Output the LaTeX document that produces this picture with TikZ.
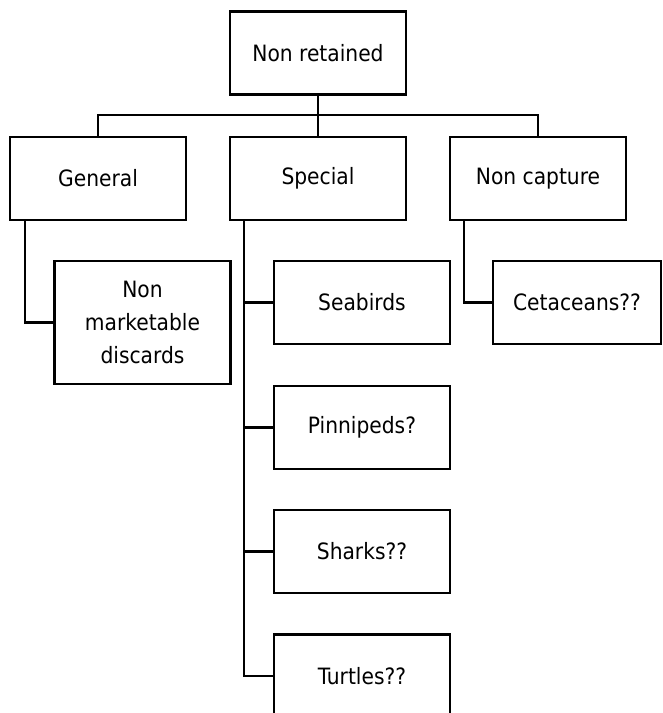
\documentclass[tikz,border=0pt]{standalone}
\usepackage{fontspec}
\setmainfont{DejaVu Sans Condensed}
\begin{document}
\begin{tikzpicture}[x=1pt,y=-1pt,
  box/.style={draw=black,line width=2.8pt,fill=white,rectangle,
    minimum width=176pt,minimum height=83pt,inner sep=0pt,
    align=center,font=\fontsize{22.5}{33}\selectfont},
  link/.style={draw=black,line width=2.2pt}]
\clip (0,0) rectangle (663,713);
\fill[white] (0,0) rectangle (663,713);

% top level and its three branches
\node[box] (root) at (318,53) {Non retained};
\node[box] (gen) at (98,178.5) {General};
\node[box] (spec) at (318,178.5) {Special};
\node[box] (ncap) at (538,178.5) {Non capture};

% leaves
\node[box,minimum height=123pt] (nm) at (142.5,322.5) {Non\\marketable\\discards};
\node[box] (sea) at (362,302.5) {Seabirds};
\node[box] (pin) at (362,427.5) {Pinnipeds?};
\node[box] (sha) at (362,551.5) {Sharks??};
\node[box] (tur) at (362,676) {Turtles??};
\node[box,minimum width=168pt] (cet) at (577,302.5) {Cetaceans??};

% bus under the root
\coordinate (bus) at (318,115);
\draw[link] (root.south) -- (bus);
\draw[link] (bus) -| (gen.north);
\draw[link] (bus) -- (spec.north);
\draw[link] (bus) -| (ncap.north);

% side rails down to the leaves
\draw[link] ([xshift=16pt]gen.south west) |- (nm.west);
\draw[link] ([xshift=15pt]spec.south west) |- (tur.west);
\draw[link] ([xshift=15pt]spec.south west) |- (sea.west);
\draw[link] ([xshift=15pt]spec.south west) |- (pin.west);
\draw[link] ([xshift=15pt]spec.south west) |- (sha.west);
\draw[link] ([xshift=15pt]ncap.south west) |- (cet.west);
\end{tikzpicture}
\end{document}
